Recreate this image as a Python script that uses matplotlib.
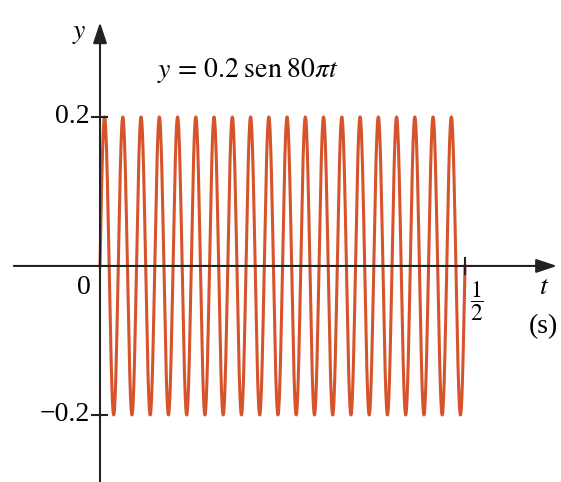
import matplotlib
matplotlib.use("Agg")
import matplotlib.pyplot as plt
import numpy as np

# wave parameters: y = 0.2 sen 80 pi t, 0 <= t <= 1/2
amplitude = 0.2
omega = 80 * np.pi
t_end = 0.5

y_ticks = [0.2, -0.2]
y_tick_labels = ["0.2", "\u22120.2"]
x_tick = 0.5

plt.rcParams["font.family"] = ["Liberation Serif", "DejaVu Serif"]
plt.rcParams["mathtext.fontset"] = "stix"

fig = plt.figure(figsize=(5.61, 4.82), dpi=100)
ax = fig.add_axes([0, 0, 1, 1])
ax.set_xlim(-0.137, 0.6315)
ax.set_ylim(-0.29, 0.357)
ax.axis("off")

t = np.linspace(0, t_end, 4000)
y = amplitude * np.sin(omega * t)
ax.plot(t, y, color="#d6532b", lw=2.2, zorder=2)

# axes with arrows
arrow = dict(arrowstyle="-|>,head_length=0.9,head_width=0.3",
             color="#222222", lw=1.5, mutation_scale=14, shrinkA=0, shrinkB=0)
ax.annotate("", xy=(0.626, 0), xytext=(-0.118, 0), arrowprops=arrow, zorder=3)
ax.annotate("", xy=(0, 0.327), xytext=(0, -0.29), arrowprops=arrow, zorder=3)

# ticks
for v in y_ticks:
    ax.plot([-0.011, 0.009], [v, v], color="#222222", lw=1.5, zorder=3)
ax.plot([x_tick, x_tick], [-0.011, 0.011], color="#222222", lw=1.5, zorder=3)

fs = 20
for v, lab in zip(y_ticks, y_tick_labels):
    ax.text(-0.014, v, lab, ha="right", va="center", fontsize=fs)
ax.text(-0.013, -0.012, "0", ha="right", va="top", fontsize=fs)
ax.text(x_tick + 0.007, -0.018, r"$\dfrac{1}{2}$", ha="left", va="top", fontsize=17)
ax.text(0.608, -0.012, "$t$", ha="center", va="top", fontsize=fs)
ax.text(0.608, -0.065, "(s)", ha="center", va="top", fontsize=fs)
ax.text(-0.018, 0.312, "$y$", ha="right", va="center", fontsize=fs)
ax.text(0.078, 0.262, r"$y\,=\,0.2\;\mathrm{sen}\;80\pi t$", ha="left",
        va="center", fontsize=fs)

fig.savefig("out.png", dpi=100)
